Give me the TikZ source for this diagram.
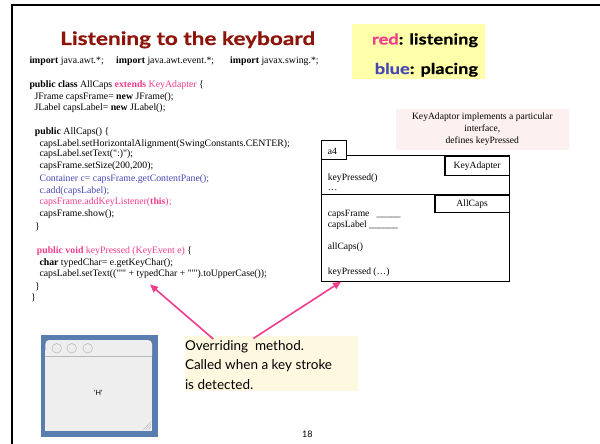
\documentclass[tikz,border=0pt]{standalone}
\usepackage{fontspec}
\setmainfont{Liberation Serif}
\newfontfamily\gill{Lato}
\newfontfamily\gillhead{Lato}[FakeStretch=1.22, FakeBold=0.6]
\newfontfamily\codefont{Liberation Serif}[Ligatures=TeXOff]
\newfontfamily\plainsans{Liberation Sans}[Ligatures=TeXOff]
\usetikzlibrary{arrows.meta}
\definecolor{titlered}{RGB}{140,20,10}
\definecolor{pinkc}{RGB}{240,60,140}
\definecolor{bluec}{RGB}{70,70,180}
\definecolor{legendyellow}{RGB}{255,255,170}
\definecolor{notepink}{RGB}{253,240,240}
\definecolor{calloutcream}{RGB}{255,248,225}
\definecolor{winblue}{RGB}{90,125,175}
\definecolor{winbg}{RGB}{238,238,238}
\begin{document}
\begin{tikzpicture}[x=1pt,y=-1pt,
  code/.style={anchor=base west, inner sep=0pt, font=\codefont\fontsize{9.8}{11}\selectfont},
  objtext/.style={anchor=base west, inner sep=0pt, font=\codefont\fontsize{9.6}{11}\selectfont},
  objbox/.style={draw, line width=0.9pt, inner sep=0pt},
  tagbox/.style={draw, line width=1.3pt, inner sep=0pt, font=\codefont\fontsize{9.6}{11}\selectfont},
  legendtxt/.style={anchor=base east, inner sep=0pt, font=\gillhead\bfseries\fontsize{15}{17}\selectfont},
  callouttxt/.style={anchor=base west, inner sep=0pt, font=\gill\fontsize{13.5}{16}\selectfont},
  pinkarrow/.style={draw=pinkc, line width=1.6pt, -{Triangle[length=8pt,width=7pt]}}
]
\useasboundingbox (0,0) rectangle (600,444);
% frame
\draw[line width=2pt] (12.3,444) -- (12.3,5.5) -- (600,5.5);
% title
\node[anchor=base west, inner sep=0pt, text=titlered, font=\gillhead\bfseries\fontsize{18.5}{20}\selectfont] (title) at (60,45) {Listening to the keyboard};
% legend
\node[fill=legendyellow, minimum width=133.3pt, minimum height=55.3pt, inner sep=0pt] (legend) at (418.3,51.7) {};
\node[legendtxt] (leg1) at (478.3,44.5) {\textcolor{pinkc}{red}: listening};
\node[legendtxt] (leg2) at (478.3,74) {\textcolor{bluec}{blue}: placing};
% code
\node[code] (c1a) at (29.3,64) {\textbf{import} java.awt.*;};
\node[code] (c1b) at (116,64) {\textbf{import} java.awt.event.*;};
\node[code] (c1c) at (230,64) {\textbf{import} javax.swing.*;};
\node[code] (c2) at (29.3,88) {\textbf{public class} AllCaps \textcolor{pinkc}{\textbf{extends} KeyAdapter} \{};
\node[code] (c3) at (34.3,99.7) {JFrame capsFrame= \textbf{new} JFrame();};
\node[code] (c4) at (34.3,110.7) {JLabel capsLabel= \textbf{new} JLabel();};
\node[code] (c5) at (34.7,134.7) {\textbf{public} AllCaps() \{};
\node[code] (c6) at (39.3,146.3) {capsLabel.setHorizontalAlignment(SwingConstants.CENTER);};
\node[code] (c7) at (39.3,156.7) {capsLabel.setText(":)");};
\node[code] (c8) at (39.3,168) {capsFrame.setSize(200,200);};
\node[code, text=bluec] (c9) at (39.3,181.3) {Container c= capsFrame.getContentPane();};
\node[code, text=bluec] (c10) at (39.3,193) {c.add(capsLabel);};
\node[code, text=pinkc] (c11) at (39.3,204.7) {capsFrame.addKeyListener(\textbf{this});};
\node[code] (c12) at (39.3,216.3) {capsFrame.show();};
\node[code] (c13) at (35,229) {\}};
\node[code] (c14) at (36.7,253.7) {\textcolor{pinkc}{\textbf{public void} keyPressed (KeyEvent e)} \{};
\node[code] (c15) at (39.3,265.3) {\textbf{char} typedChar= e.getKeyChar();};
\node[code] (c16) at (39.3,276.3) {capsLabel.setText(("'" + typedChar + "'").toUpperCase());};
\node[code] (c17) at (35,289.7) {\}};
\node[code] (c18) at (31,300.3) {\}};
% note
\node[fill=notepink, minimum width=172.7pt, minimum height=41.7pt, inner sep=0pt, align=center,
  font=\codefont\fontsize{9.6}{12.2}\selectfont] (note) at (482.3,129.4)
  {KeyAdaptor implements a particular\\interface,\\defines keyPressed};
% object diagram
\node[objbox, minimum width=187.6pt, minimum height=125.7pt] (obj) at (415.5,218.15) {};
\node[objbox, minimum width=25pt, minimum height=19pt, fill=white] (a4box) at (334.2,149.5) {};
\node[objtext] (a4) at (327.7,154.7) {a4};
\draw[line width=1.3pt] (321.7,194.3) -- (509.3,194.3);
\node[tagbox, minimum width=64.3pt, minimum height=18.6pt] (kabox) at (477.2,166) {KeyAdapter};
\node[tagbox, minimum width=74.3pt, minimum height=17.4pt] (acbox) at (472.2,204) {AllCaps};
\node[objtext] (o1) at (327.7,180.5) {keyPressed()};
\node[objtext] (o2) at (327.7,190.5) {\dots};
\node[objtext] (o3) at (327.7,216.3) {capsFrame\ \ \ \_\_\_\_\_};
\node[objtext] (o4) at (327.7,227) {capsLabel \_\_\_\_\_\_};
\node[objtext] (o5) at (327.7,249.7) {allCaps()};
\node[objtext] (o6) at (327.7,274.7) {keyPressed (\dots)};
% callout
\node[fill=calloutcream, minimum width=173.4pt, minimum height=54.7pt, inner sep=0pt, anchor=north west] (callout) at (184.3,336) {};
\node[callouttxt] (k1) at (184.8,350) {Overriding\ \ method.};
\node[callouttxt] (k2) at (184.8,369.5) {Called when a key stroke};
\node[callouttxt] (k3) at (184.8,389) {is detected.};
% arrows
\coordinate (s1) at (213.3,339);
\coordinate (t1) at (150,284.5);
\coordinate (s2) at (253.3,338.5);
\coordinate (t2) at (341,281.7);
\draw[pinkarrow] (s1) -- (t1);
\draw[pinkarrow] (s2) -- (t2);
% window
\node[fill=winblue, minimum width=116.7pt, minimum height=101.7pt, inner sep=0pt, anchor=north west] (win) at (41,335) {};
\fill[winbg, rounded corners=4pt] (45.3,340) rectangle (152,360);
\fill[winbg] (45.3,350) rectangle (152,430.7);
\draw[gray!55, line width=0.6pt] (45.3,356.7) -- (152,356.7);
\foreach \cx in {56.7,71.7,87.7} \draw[gray!55, fill=gray!15, line width=0.5pt] (\cx,348.3) circle (4.8pt);
\node[inner sep=0pt, font=\plainsans\fontsize{7.5}{9}\selectfont] (hlabel) at (98.3,392.7) {'H'};
\draw[gray!60, line width=0.4pt] (151,424) -- (146,429.5) (151,426.5) -- (148.5,429.5) (151,421.5) -- (143.5,429.5);
% page number
\node[inner sep=0pt, font=\gill\fontsize{9}{10}\selectfont] (pnum) at (307.3,434) {18};
\end{tikzpicture}
\end{document}
